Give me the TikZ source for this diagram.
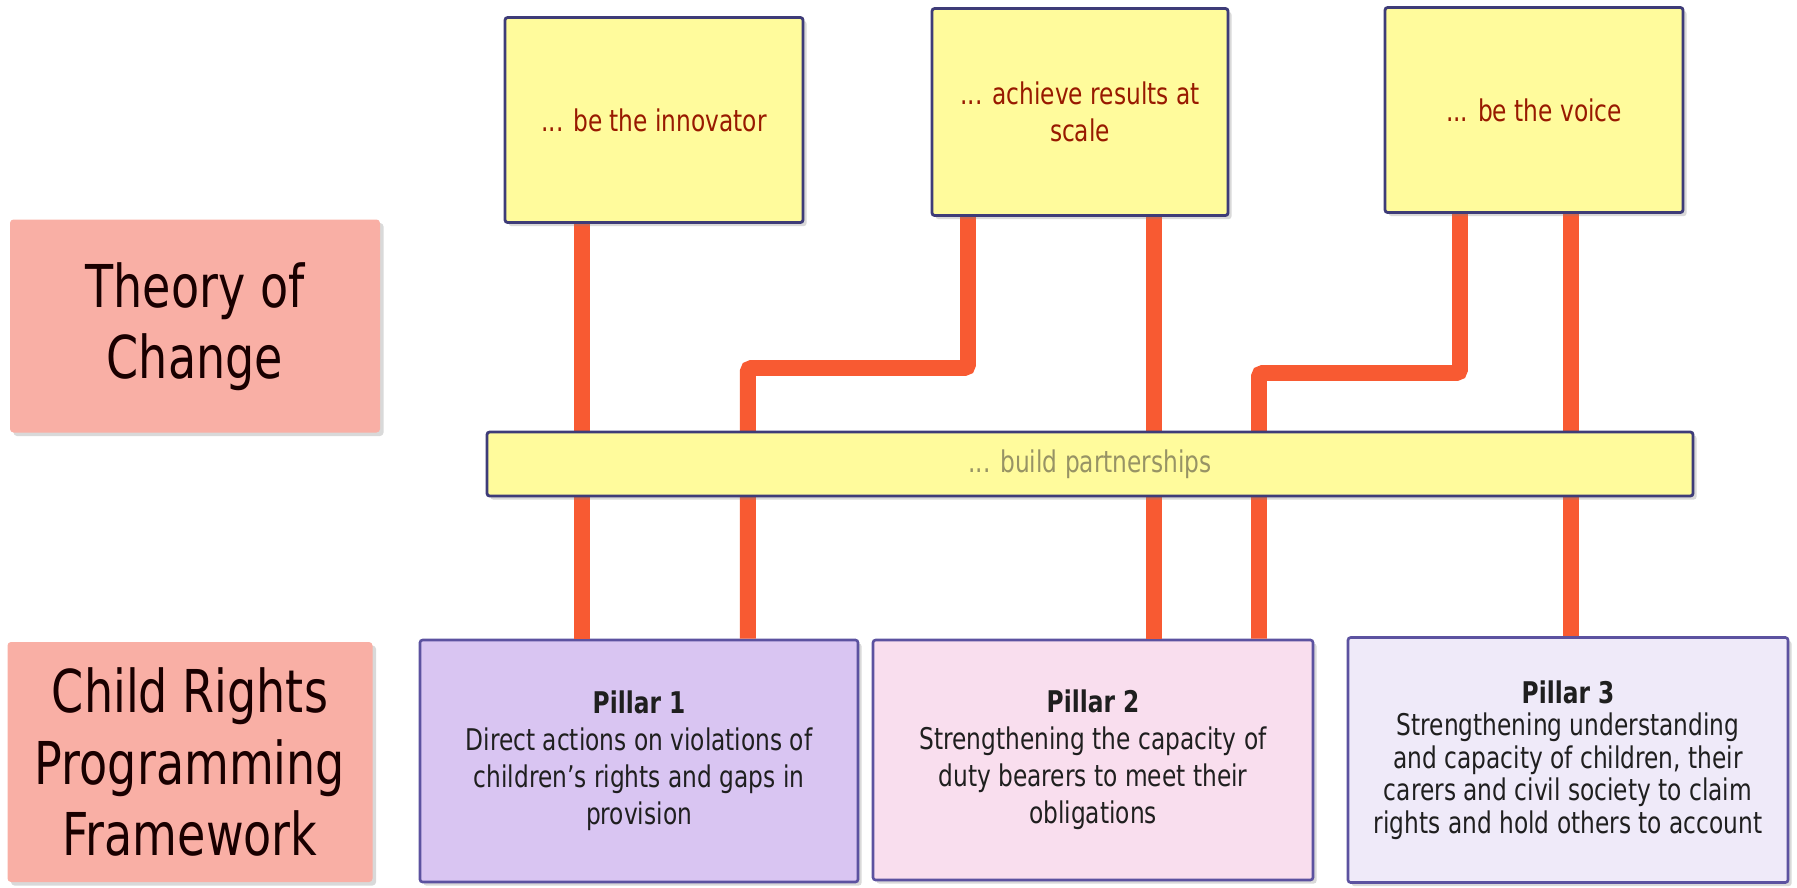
\documentclass[tikz,border=0pt]{standalone}
\usepackage{fontspec}
\setmainfont{DejaVu Sans}[FakeStretch=0.78]
\usepackage{tikz}
\usetikzlibrary{calc,shadows}

\definecolor{linkred}{HTML}{F85A32}
\definecolor{noteyellow}{HTML}{FFFB9C}
\definecolor{noteline}{HTML}{3E3C78}
\definecolor{labelpink}{HTML}{F9AFA5}
\definecolor{pillarA}{HTML}{D9C5F2}
\definecolor{pillarB}{HTML}{F9DEEE}
\definecolor{pillarC}{HTML}{EFEAF9}
\definecolor{pillarline}{HTML}{5C52A0}

\begin{document}
\begin{tikzpicture}[x=0.02cm,y=-0.02cm,
  shade/.style={drop shadow={shadow xshift=2pt,shadow yshift=-2pt,opacity=0.3}},
  label/.style={shade,fill=labelpink,rounded corners=2pt,inner sep=0pt,align=center,
    text=black!90!red,font=\fontsize{33.6}{40.5}\selectfont},
  note/.style={shade,fill=noteyellow,draw=noteline,line width=1.6pt,rounded corners=1.5pt,
    inner sep=0pt,align=center,text=red!55!black!90!yellow,font=\fontsize{17}{21}\selectfont},
  pillar/.style={shade,draw=pillarline,line width=1.5pt,rounded corners=1.5pt,inner sep=0pt,
    align=center,text=black!88,font=\fontsize{17}{21}\selectfont},
  link/.style={linkred,line width=9pt,rounded corners=2pt}]
\useasboundingbox (0,0) rectangle (1797,887);

% left-hand labels
\node[label,minimum width=370*0.02cm,minimum height=213*0.02cm] (toc) at (195,326)
  {\\[-14pt]Theory of\\Change};
\node[label,minimum width=365*0.02cm,minimum height=240*0.02cm] (crp) at (190,762)
  {Child Rights\\Programming\\Framework};

% pillars
\node[pillar,fill=pillarA,minimum width=438*0.02cm,minimum height=242*0.02cm] (p_1) at (639,761)
  {\textbf{Pillar 1}\\Direct actions on violations of\\children's rights and gaps in\\provision};
\node[pillar,fill=pillarB,minimum width=440*0.02cm,minimum height=240*0.02cm] (p_2) at (1093,760)
  {\textbf{Pillar 2}\\Strengthening the capacity of\\duty bearers to meet their\\obligations};
\node[pillar,fill=pillarC,minimum width=440*0.02cm,minimum height=245*0.02cm,
  font=\fontsize{17}{18.5}\selectfont] (p_3) at (1568,760)
  {\textbf{Pillar 3}\\Strengthening understanding\\and capacity of children, their\\carers and civil society to claim\\rights and hold others to account};

% theory of change boxes, drawn later on top of the links
\path (654,120) coordinate (g_1) (1080,112) coordinate (g_2) (1534,110) coordinate (g_3);

% links
\coordinate (kink1) at (0,368);
\coordinate (kink2) at (0,373);
\coordinate (a1) at (582,222);
\coordinate (a2) at (968,215);
\coordinate (a3) at (1154,215);
\coordinate (a4) at (1460,213);
\coordinate (a5) at (1571,213);
\coordinate (b2) at ($(p_1.north west)!0.747!(p_1.north east)$);
\coordinate (b4) at ($(p_2.north west)!0.875!(p_2.north east)$);
\draw[link] (a1) -- (a1 |- p_1.north);
\draw[link] (a2) -- (a2 |- kink1) -- (b2 |- kink1) -- (b2);
\draw[link] (a3) -- (a3 |- p_2.north);
\draw[link] (a4) -- (a4 |- kink2) -- (b4 |- kink2) -- (b4);
\draw[link] (a5) -- (a5 |- p_3.north);

\node[note,minimum width=298*0.02cm,minimum height=205*0.02cm] (inno) at (g_1)
  {... be the innovator};
\node[note,minimum width=296*0.02cm,minimum height=207*0.02cm] (scale) at (g_2)
  {... achieve results at\\scale};
\node[note,minimum width=298*0.02cm,minimum height=205*0.02cm] (voice) at (g_3)
  {... be the voice};
\node[note,minimum width=1206*0.02cm,minimum height=64*0.02cm,text=black!45!yellow!60!gray] (part) at (1090,464)
  {... build partnerships};
\end{tikzpicture}
\end{document}
